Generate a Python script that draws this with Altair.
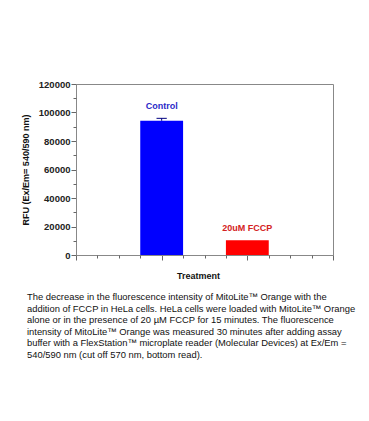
import altair as alt
import pandas as pd

categories = ["Control", "20uM FCCP"]
positions = [1, 2]
values = [94200, 10300]
errors = [1700, 0]
label_colors = ["#2a2ac8", "#d42222"]
bar_colors = ["#0000ff", "#ff0000"]

y_major = [0, 20000, 40000, 60000, 80000, 100000, 120000]
y_minor = [10000, 30000, 50000, 70000, 90000, 110000]
x_major = [0, 1, 2, 3]
x_minor = [0.25, 0.5, 0.75, 1.25, 1.5, 1.75, 2.25, 2.5, 2.75]

caption_lines = [
    "The decrease in the fluorescence intensity of MitoLite\u2122 Orange with the",
    "addition of FCCP in HeLa cells. HeLa cells were loaded with MitoLite\u2122 Orange",
    "alone or in the presence of 20 \u00b5M FCCP for 15 minutes. The fluorescence",
    "intensity of MitoLite\u2122 Orange was measured 30 minutes after adding assay",
    "buffer with a FlexStation\u2122 microplate reader (Molecular Devices) at Ex/Em =",
    "540/590 nm (cut off 570 nm, bottom read).",
]

df = pd.DataFrame({
    "cat": categories,
    "pos": positions,
    "val": values,
    "err": errors,
    "lcol": label_colors,
    "bcol": bar_colors,
})

FONT = "Liberation Sans"
xs = alt.Scale(domain=[0, 3], nice=False, zero=False)
ys = alt.Scale(domain=[0, 120000], nice=False)

base = alt.Chart(df).transform_calculate(
    x0="datum.pos - 0.25", x1="datum.pos + 0.25",
    c0="datum.pos - 0.06", c1="datum.pos + 0.06",
    top="datum.val + datum.err", zero="0",
)

bars = base.mark_bar(stroke=None).encode(
    x=alt.X("x0:Q", scale=xs, axis=alt.Axis(
        orient="bottom", values=x_major, labels=False, tickSize=5,
        title="Treatment", titleFont=FONT, titleFontSize=9, titleFontWeight="bold",
        titleColor="#111", titleX=122, titleY=16, titleBaseline="top",
        domainColor="#888", tickColor="#666", grid=False)),
    x2="x1:Q",
    y=alt.Y("val:Q", scale=ys, axis=alt.Axis(
        orient="left", values=y_major, format="d", tickSize=5,
        labelFont=FONT, labelFontSize=9.5, labelFontWeight="bold", labelColor="#222",
        labelPadding=1,
        title="RFU (Ex/Em= 540/590 nm)", titleFont=FONT, titleFontSize=9,
        titleFontWeight="bold", titleColor="#111", titlePadding=8,
        domainColor="#888", tickColor="#666", grid=False)),
    y2="zero:Q",
    color=alt.Color("bcol:N", scale=None),
)

err_rule = base.mark_rule(color="#000080", strokeWidth=1).encode(
    x=alt.X("pos:Q", scale=xs, axis=alt.Axis(
        orient="bottom", values=x_minor, labels=False, tickSize=3, title=None,
        domain=False, tickColor="#666", grid=False)),
    y=alt.Y("val:Q", scale=ys, axis=alt.Axis(
        orient="left", values=y_minor, labels=False, tickSize=3, title=None,
        domain=False, tickColor="#666", grid=False)),
    y2="top:Q",
)

cap = base.transform_filter("datum.err > 0").mark_rule(color="#000080", strokeWidth=1).encode(
    x=alt.X("c0:Q", scale=xs, axis=None),
    x2="c1:Q",
    y=alt.Y("top:Q", scale=ys, axis=None),
)

labels = base.mark_text(font=FONT, fontSize=9, fontWeight="bold", dy=-12,
                        baseline="middle", align="center").encode(
    x=alt.X("pos:Q", scale=xs, axis=None),
    y=alt.Y("top:Q", scale=ys, axis=None),
    text="cat:N",
    color=alt.Color("lcol:N", scale=None),
)

cap_df = pd.DataFrame({"t": ["\n".join(caption_lines)]})
caption = alt.Chart(cap_df).mark_text(
    font=FONT, fontSize=9.4, align="left", baseline="top", lineBreak="\n",
    lineHeight=11.6, color="#111",
).encode(
    x=alt.value(-49), y=alt.value(209), text="t:N",
)

chart = alt.layer(bars, err_rule, cap, labels, caption).resolve_axis(
    x="independent", y="independent"
).properties(
    width=257, height=171,
    autosize=alt.AutoSizeParams(type="none"),
    padding={"left": 76, "top": 84, "right": 36, "bottom": 166},
    background="white",
).configure_view(stroke="#888", strokeWidth=1)

chart.save("out.html", embed_options={"renderer": "svg", "actions": False})
